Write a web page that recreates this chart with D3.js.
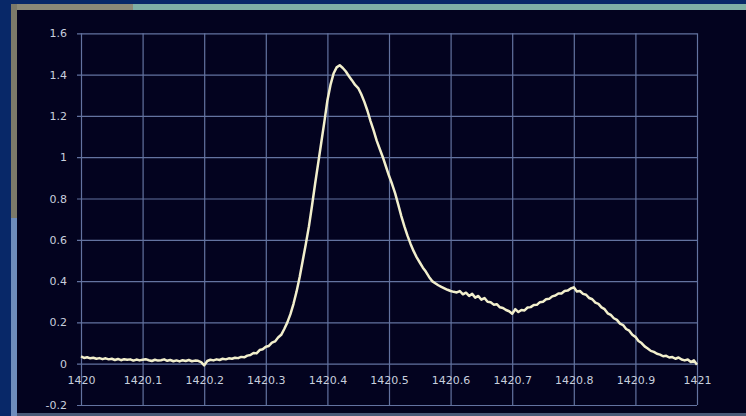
<!DOCTYPE html>
<html>
<head>
<meta charset="utf-8">
<script src="https://cdn.jsdelivr.net/npm/d3@7"></script>
<style>
  html, body { margin: 0; padding: 0; background: #082868; }
  svg { display: block; }
  .tick text { font-family: "DejaVu Sans", Verdana, sans-serif; font-size: 11px; fill: #c8cfde; }
</style>
</head>
<body>
<svg id="chart"></svg>
<script>
// frequency axis (MHz) and y axis ticks
const xTicks = [1420, 1420.1, 1420.2, 1420.3, 1420.4, 1420.5, 1420.6, 1420.7, 1420.8, 1420.9, 1421];
const xTickLabels = ['1420', '1420.1', '1420.2', '1420.3', '1420.4', '1420.5', '1420.6', '1420.7', '1420.8', '1420.9', '1421'];
const yTicks = [-0.2, 0, 0.2, 0.4, 0.6, 0.8, 1, 1.2, 1.4, 1.6];
const yTickLabels = ['-0.2', '0', '0.2', '0.4', '0.6', '0.8', '1', '1.2', '1.4', '1.6'];

// sample frequencies, every 0.005 MHz from 1420 to 1421
const freqStart = 1420;
const freqStep = 0.005;

// spectrum values
const power = [
  0.035, 0.028, 0.031, 0.026, 0.029, 0.024, 0.027, 0.022, 0.026, 0.021,
  0.024, 0.018, 0.023, 0.017, 0.022, 0.019, 0.021, 0.015, 0.020, 0.016,
  0.019, 0.022, 0.017, 0.013, 0.019, 0.015, 0.017, 0.021, 0.014, 0.018,
  0.012, 0.016, 0.011, 0.017, 0.013, 0.018, 0.012, 0.015, 0.014, 0.008,
  -0.008, 0.013, 0.019, 0.016, 0.021, 0.018, 0.024, 0.021, 0.026, 0.024,
  0.029, 0.027, 0.033, 0.031, 0.039, 0.042, 0.052, 0.050, 0.066, 0.070,
  0.082, 0.086, 0.102, 0.108, 0.127, 0.140, 0.168, 0.200, 0.240, 0.290,
  0.350, 0.420, 0.500, 0.580, 0.665, 0.765, 0.870, 0.970, 1.070, 1.170,
  1.275, 1.350, 1.405, 1.435, 1.445, 1.432, 1.415, 1.392, 1.372, 1.350,
  1.335, 1.305, 1.268, 1.225, 1.175, 1.130, 1.080, 1.040, 1.000, 0.955,
  0.910, 0.870, 0.825, 0.770, 0.715, 0.665, 0.620, 0.580, 0.545, 0.515,
  0.490, 0.465, 0.445, 0.420, 0.400, 0.390, 0.380, 0.372, 0.365, 0.358,
  0.352, 0.348, 0.345, 0.352, 0.336, 0.344, 0.328, 0.338, 0.320, 0.328,
  0.310, 0.318, 0.300, 0.298, 0.286, 0.288, 0.273, 0.270, 0.260, 0.254,
  0.242, 0.264, 0.250, 0.260, 0.258, 0.272, 0.274, 0.284, 0.285, 0.298,
  0.300, 0.312, 0.314, 0.326, 0.330, 0.340, 0.340, 0.352, 0.354, 0.364,
  0.370, 0.350, 0.352, 0.338, 0.334, 0.318, 0.312, 0.296, 0.290, 0.273,
  0.264, 0.244, 0.236, 0.220, 0.212, 0.194, 0.187, 0.168, 0.160, 0.140,
  0.130, 0.110, 0.100, 0.084, 0.074, 0.062, 0.057, 0.048, 0.044, 0.036,
  0.038, 0.030, 0.032, 0.024, 0.030, 0.020, 0.016, 0.020, 0.008, 0.016,
  -0.005
];

const W = 746, H = 416;
const margin = { top: 33.3, right: 49, bottom: 11, left: 81 };
const width = W - margin.left - margin.right;
const height = H - margin.top - margin.bottom;

const svg = d3.select('#chart').attr('width', W).attr('height', H);

// window chrome around the plot
svg.append('rect').attr('x', 0).attr('y', 0).attr('width', W).attr('height', H).attr('fill', '#082868');
svg.append('rect').attr('x', 13).attr('y', 4).attr('width', W - 13).attr('height', 6).attr('fill', '#7fb0a6');
svg.append('rect').attr('x', 13).attr('y', 4).attr('width', 120).attr('height', 6).attr('fill', '#8c8a78');
svg.append('rect').attr('x', 11).attr('y', 4).attr('width', 6).attr('height', H - 4).attr('fill', '#7c7a6a');
svg.append('rect').attr('x', 11).attr('y', 218).attr('width', 6).attr('height', H - 218).attr('fill', '#6d8cbc');
svg.append('rect').attr('x', 17).attr('y', 10).attr('width', W - 17).attr('height', 403).attr('fill', '#03031f');
svg.append('rect').attr('x', 17).attr('y', 413).attr('width', W - 17).attr('height', 3).attr('fill', '#4a5a78');

const g = svg.append('g').attr('transform', `translate(${margin.left},${margin.top})`);

const x = d3.scaleLinear().domain([1420, 1421]).range([0, width]);
const y = d3.scaleLinear().domain([-0.2, 1.6]).range([height, 0]);

// vertical grid
g.append('g')
  .attr('transform', `translate(0,${height})`)
  .call(d3.axisBottom(x).tickValues(xTicks).tickSize(-height).tickFormat(''))
  .call(a => a.select('.domain').remove())
  .call(a => a.selectAll('.tick line').attr('stroke', '#6373a0').attr('stroke-width', 1.2));

// horizontal grid + y labels
g.append('g')
  .attr('transform', 'translate(-4,0)')
  .call(d3.axisLeft(y).tickValues(yTicks).tickSize(-(width + 4)).tickPadding(10)
    .tickFormat((d, i) => yTickLabels[i]))
  .call(a => a.select('.domain').remove())
  .call(a => a.selectAll('.tick line').attr('stroke', '#6373a0').attr('stroke-width', 1.2));

// x labels sit just under the zero line
g.append('g')
  .attr('transform', `translate(0,${y(0)})`)
  .call(d3.axisBottom(x).tickValues(xTicks).tickSize(0).tickPadding(13)
    .tickFormat((d, i) => xTickLabels[i]))
  .call(a => a.select('.domain').remove());

const data = power.map((v, i) => ({ f: freqStart + i * freqStep, v: v }));

const line = d3.line()
  .x(d => x(d.f))
  .y(d => y(d.v));

g.append('path')
  .datum(data)
  .attr('fill', 'none')
  .attr('stroke', '#f2efcc')
  .attr('stroke-width', 2.5)
  .attr('stroke-linejoin', 'round')
  .attr('d', line);
</script>
</body>
</html>
